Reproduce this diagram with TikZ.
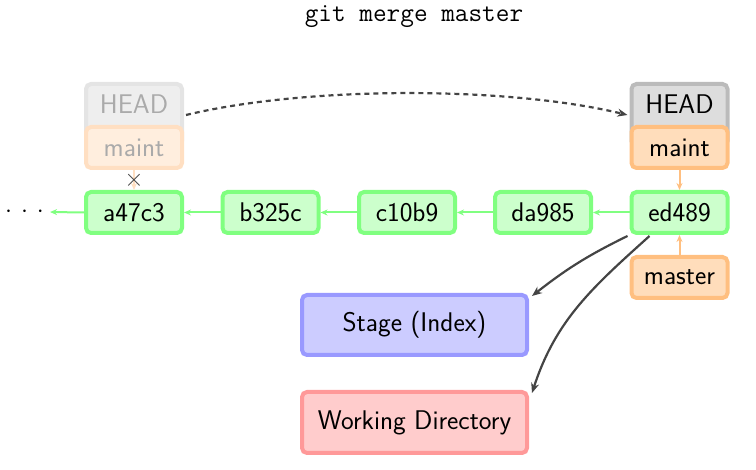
\documentclass[tikz,border=0pt]{standalone}
\usepackage{fontspec}
\usetikzlibrary{arrows.meta}
\definecolor{gB}{HTML}{80FF80}
\definecolor{gF}{HTML}{CCFFCC}
\definecolor{oB}{HTML}{FFBF80}
\definecolor{oF}{HTML}{FFDDBB}
\definecolor{hB}{HTML}{BBBBBB}
\definecolor{hF}{HTML}{DDDDDD}
\definecolor{bB}{HTML}{9999FF}
\definecolor{bF}{HTML}{CCCCFF}
\definecolor{rB}{HTML}{FF9999}
\definecolor{rF}{HTML}{FFCCCC}
\definecolor{fhB}{HTML}{E4E4E4}
\definecolor{fhF}{HTML}{EEEEEE}
\definecolor{foB}{HTML}{FFDFC2}
\definecolor{foF}{HTML}{FFEEDE}
\definecolor{ftext}{HTML}{AAAAAA}
\definecolor{dk}{HTML}{444444}
\begin{document}
\begin{tikzpicture}[x=1pt,y=-1pt,
  font=\sffamily\fontsize{27}{31}\selectfont,
  box/.style={rounded corners=5pt, line width=4pt, inner sep=0pt, minimum width=96pt, minimum height=41pt},
  commit/.style={box, draw=gB, fill=gF},
  branch/.style={box, draw=oB, fill=oF},
  headbox/.style={box, draw=hB, fill=hF, minimum height=62pt, text height=18pt, text depth=20pt},
  fheadbox/.style={headbox, draw=fhB, fill=fhF, text=ftext},
  fbranch/.style={box, draw=foB, fill=foF, text=ftext},
  area/.style={rounded corners=5pt, line width=4pt, inner sep=0pt, minimum width=225pt, minimum height=60pt},
  garrow/.style={draw=gB, line width=2pt, -{Stealth[length=7pt,width=6pt]}},
  oarrow/.style={draw=oB, line width=2pt, -{Stealth[length=7pt,width=6pt]}},
  darrow/.style={draw=dk, line width=2.2pt, -{Stealth[length=10pt,width=8pt]}},
]
\useasboundingbox (0,0) rectangle (756,470);

\node (title) at (414,17) {\ttfamily\fontsize{26.5}{29}\selectfont git merge master};

% faded left HEAD / maint
\node[fheadbox, anchor=north] (lhead) at (134,82) {HEAD};
\node[fbranch] (lmaint) at (134,147.5) {maint};

% right HEAD / maint
\node[headbox, anchor=north] (rhead) at (679.5,82) {HEAD};
\node[branch] (rmaint) at (679.5,147.5) {maint};

% commits
\node[commit] (a47c3) at (134,212.5) {a47c3};
\node[commit] (b325c) at (270.5,212.5) {b325c};
\node[commit] (c10b9) at (407,212.5) {c10b9};
\node[commit] (da985) at (543,212.5) {da985};
\node[commit] (ed489) at (679.5,212.5) {ed489};
\node[font=\fontsize{32}{34}\selectfont, inner sep=1pt] (dots) at (24.5,212) {${\cdot}\hspace{9pt}{\cdot}\hspace{9pt}{\cdot}$};

\node[branch] (master) at (679.5,277.5) {master};

\node[area, draw=bB, fill=bF] (stage) at (414.5,325) {Stage (Index)};
\node[area, draw=rB, fill=rF, minimum height=61pt] (wd) at (414.5,422.5) {Working Directory};

% commit chain
\draw[garrow] (ed489.west) -- (da985.east);
\draw[garrow] (da985.west) -- (c10b9.east);
\draw[garrow] (c10b9.west) -- (b325c.east);
\draw[garrow] (b325c.west) -- (a47c3.east);
\draw[garrow] (a47c3.west) -- ([xshift=5pt]dots.east);

% branch pointers
\draw[oarrow] (rmaint.south) -- (ed489.north);
\draw[oarrow] (master.north) -- (ed489.south);
\draw[oarrow, draw=foB] (lmaint.south) -- (a47c3.north) node[midway, text=dk, inner sep=0pt, font=\fontsize{30}{32}\selectfont] (cross) {$\times$};

% HEAD move
\draw[darrow, dash pattern=on 5pt off 4pt] ([xshift=2pt]lhead.east) .. controls +(120,-29) and +(-120,-29) .. ([xshift=-2pt]rhead.west);

% checkout effects
\draw[darrow] ([xshift=-2pt,yshift=-1pt]ed489.south west) to[bend right=6] ([xshift=3pt,yshift=-3pt]stage.north east);
\draw[darrow] ([xshift=20pt,yshift=-1pt]ed489.south west) to[out=-138, in=72] ([xshift=3pt,yshift=-3pt]wd.north east);
\end{tikzpicture}
\end{document}
